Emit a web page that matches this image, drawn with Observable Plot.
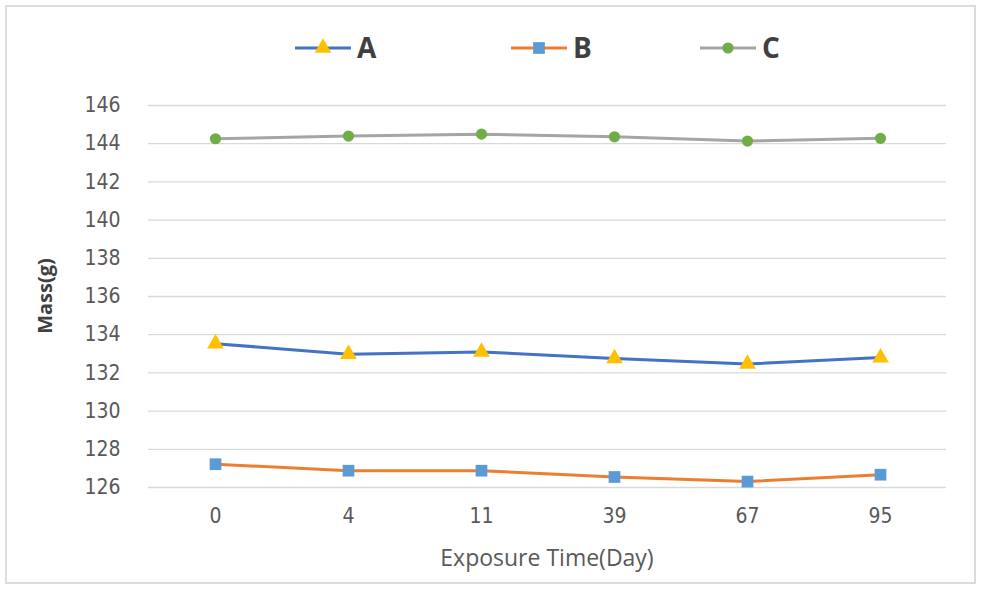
<!DOCTYPE html>
<html>
<head>
<meta charset="utf-8">
<script src="https://cdn.jsdelivr.net/npm/d3@7"></script>
<script src="https://cdn.jsdelivr.net/npm/@observablehq/plot@0.6"></script>
<style>
  html, body { margin: 0; padding: 0; background: #fff; }
  #wrap { position: relative; width: 984px; height: 593px; overflow: hidden; background: #fff; }
  #frame { position: absolute; left: 5px; top: 5px; width: 971px; height: 579px; box-sizing: border-box; border: 2px solid #dcdcdc; }
  #chart { position: absolute; left: 0; top: 0; }
  .leg { position: absolute; top: 0; height: 80px; }
  .leg svg { position: absolute; left: 0; top: 38px; }
  .leg span { position: absolute; top: 33px; font-family: "Open Sans", sans-serif; font-weight: 700; font-size: 28px; line-height: 28px; color: #404040; white-space: nowrap; }
  #xtitle { position: absolute; left: 347px; width: 400px; top: 546px; text-align: center; font-family: "Open Sans", sans-serif; font-size: 23px; line-height: 23px; color: #595959; }
  #ytitle { position: absolute; left: 45px; top: 296px; transform: translate(-50%, -50%) rotate(-90deg); font-family: "Open Sans", sans-serif; font-weight: 700; font-size: 20px; line-height: 22px; color: #404040; white-space: nowrap; }
</style>
</head>
<body>
<div id="wrap">
  <div id="frame"></div>
  <div id="chart"></div>
  <div id="legend"></div>
  <div id="xtitle"></div>
  <div id="ytitle"></div>
</div>
<script>
// ---- data ----
const days = ["0", "4", "11", "39", "67", "95"];
const seriesNames = ["A", "B", "C"];
const valuesA = [133.53, 132.98, 133.10, 132.76, 132.47, 132.80];
const valuesB = [127.22, 126.88, 126.88, 126.55, 126.31, 126.67];
const valuesC = [144.26, 144.40, 144.50, 144.36, 144.14, 144.28];
const yTicks = [126, 128, 130, 132, 134, 136, 138, 140, 142, 144, 146];
const xTitle = "Exposure Time(Day)";
const yTitle = "Mass(g)";

// ---- styles ----
const lineColors = ["#4472C4", "#ED7D31", "#A5A5A5"];
const markerColors = ["#FFC000", "#5B9BD5", "#70AD47"];
const markerSymbols = ["triangle", "square", "circle"];
const markerR = [6.2, 6.6, 5.6];

const allValues = [valuesA, valuesB, valuesC];
const rows = seriesNames.map((s, i) => days.map((d, j) => ({series: s, day: d, mass: allValues[i][j]})));

const marks = [
  Plot.gridY(yTicks, {stroke: "#d9d9d9", strokeOpacity: 1, strokeWidth: 1.3}),
  Plot.axisY(yTicks, {tickSize: 0, tickPadding: 28, fontSize: 21, label: null}),
  Plot.axisX({tickSize: 0, tickPadding: 21, fontSize: 21, label: null})
];
rows.forEach((r, i) => {
  marks.push(Plot.line(r, {x: "day", y: "mass", stroke: lineColors[i], strokeWidth: 3}));
  marks.push(Plot.dot(r, {x: "day", y: "mass", symbol: markerSymbols[i], fill: markerColors[i], r: markerR[i], stroke: "none"}));
});

const chart = Plot.plot({
  width: 984,
  height: 593,
  marginLeft: 148,
  marginRight: 38,
  marginTop: 105,
  marginBottom: 106,
  x: {type: "point", domain: days, padding: 0.5, label: null},
  y: {domain: [126, 146], label: null},
  style: {
    fontFamily: "'DejaVu Sans Condensed', 'DejaVu Sans', sans-serif",
    fontStretch: "condensed",
    fontSize: "21px",
    color: "#595959",
    background: "transparent",
    overflow: "visible"
  },
  marks
});
document.getElementById("chart").appendChild(chart);

// ---- legend ----
const legendX = [295, 511, 700];
const legend = document.getElementById("legend");
seriesNames.forEach((s, i) => {
  const item = document.createElement("div");
  item.className = "leg";
  item.style.left = legendX[i] + "px";
  const sw = 56;
  const sym = d3.symbol(markerSymbols[i] === "triangle" ? d3.symbolTriangle : markerSymbols[i] === "square" ? d3.symbolSquare : d3.symbolCircle, Math.PI * markerR[i] * markerR[i])();
  item.innerHTML =
    `<svg width="${sw}" height="20"><line x1="0" x2="${sw}" y1="10" y2="10" stroke="${lineColors[i]}" stroke-width="3"/>` +
    `<path d="${sym}" transform="translate(${sw / 2},10)" fill="${markerColors[i]}"/></svg>` +
    `<span style="left:${sw + 6}px">${s}</span>`;
  legend.appendChild(item);
});

document.getElementById("xtitle").textContent = xTitle;
document.getElementById("ytitle").textContent = yTitle;
</script>
</body>
</html>
